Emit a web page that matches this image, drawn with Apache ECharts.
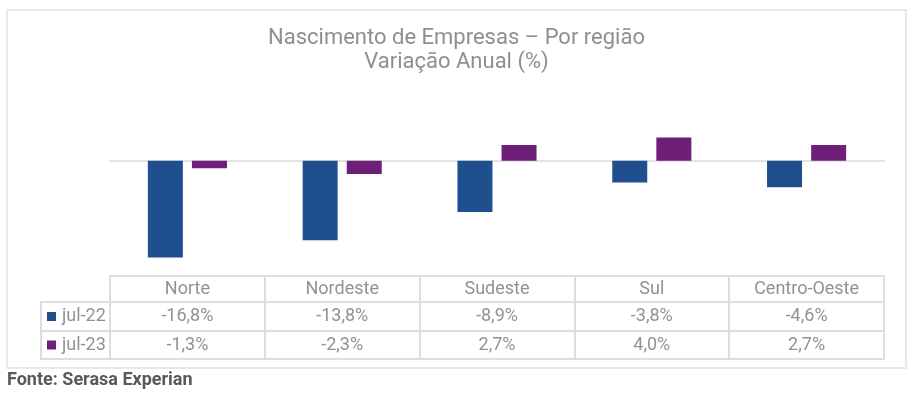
<!DOCTYPE html>
<html>
<head>
<meta charset="utf-8">
<script src="https://cdn.jsdelivr.net/npm/echarts@6/dist/echarts.min.js"></script>
<style>
  html, body { margin: 0; padding: 0; background: #fff; }
  #chart { width: 913px; height: 396px; }
</style>
</head>
<body>
<div id="chart"></div>
<script>
// Dados
const regioes = ['Norte', 'Nordeste', 'Sudeste', 'Sul', 'Centro-Oeste'];
const jul22 = [-16.8, -13.8, -8.9, -3.8, -4.6];
const jul23 = [-1.3, -2.3, 2.7, 4.0, 2.7];
const series = ['jul-22', 'jul-23'];

const cores = ['#1F4F8F', '#6E1F78'];
const cinza = '#8f9296';
const linha = '#dedede';
const fonte = 'Roboto, sans-serif';

// formato brasileiro: -16,8%
const fmt = (v) => v.toFixed(1).replace('.', ',') + '%';

const chart = echarts.init(document.getElementById('chart'));

// eixo extra que desenha uma linha da tabela
function tabelaEixo(offset, data, rowHeight, ticks) {
  return {
    type: 'category',
    gridIndex: 0,
    position: 'bottom',
    offset: offset,
    data: data,
    axisLine: { show: true, onZero: false, lineStyle: { color: linha, width: 2 } },
    axisTick: { show: !!ticks, length: ticks || 0, lineStyle: { color: linha, width: 2 } },
    axisLabel: {
      show: rowHeight > 0,
      margin: 0,
      lineHeight: rowHeight,
      fontSize: 18,
      fontFamily: fonte,
      color: cinza
    },
    splitLine: { show: false }
  };
}

const tituloStyle = { fontSize: 22, fontWeight: 'normal', color: '#8c8f93', fontFamily: fonte, lineHeight: 24 };

const option = {
  animation: false,
  title: [
    { text: 'Nascimento de Empresas – Por região', left: 'center', top: 26, padding: 0, textStyle: tituloStyle },
    { text: 'Variação Anual (%)', left: 'center', top: 50, padding: 0, textStyle: tituloStyle },
    {
      text: 'Fonte: Serasa Experian',
      left: 7,
      top: 371,
      padding: 0,
      textStyle: { fontSize: 18, fontWeight: 'bold', color: '#595959', fontFamily: fonte }
    }
  ],
  legend: {
    data: series,
    orient: 'vertical',
    left: 47,
    top: 306.5,
    padding: 0,
    icon: 'rect',
    itemWidth: 9,
    itemHeight: 9,
    itemGap: 8.5,
    selectedMode: false,
    textStyle: { fontSize: 18, color: cinza, fontFamily: fonte, lineHeight: 20, padding: [0, 0, 0, 1] }
  },
  grid: { left: 110, right: 29, top: 103, bottom: 120, containLabel: false },
  xAxis: [
    {
      type: 'category',
      data: regioes,
      axisLine: { show: true, onZero: true, lineStyle: { color: '#e3e3e3', width: 2 } },
      axisTick: { show: false },
      axisLabel: { show: false }
    },
    tabelaEixo(0, regioes, 26, 83),
    tabelaEixo(26, jul22.map(fmt), 29),
    tabelaEixo(55, jul23.map(fmt), 28),
    tabelaEixo(83, regioes, 0)
  ],
  yAxis: {
    type: 'value',
    min: -20,
    max: 10,
    show: false,
    splitLine: { show: false }
  },
  series: [
    {
      name: series[0],
      type: 'bar',
      data: jul22,
      barWidth: 35,
      barGap: '26%',
      itemStyle: { color: cores[0] }
    },
    {
      name: series[1],
      type: 'bar',
      data: jul23,
      barWidth: 35,
      barGap: '26%',
      itemStyle: { color: cores[1] }
    }
  ],
  graphic: [
    {
      type: 'rect',
      shape: { x: 7, y: 10, width: 899, height: 358 },
      style: { fill: 'none', stroke: '#e2e2e2', lineWidth: 1.5 },
      silent: true
    },
    {
      type: 'rect',
      shape: { x: 41, y: 302, width: 69, height: 57 },
      style: { fill: 'none', stroke: linha, lineWidth: 2 },
      silent: true
    },
    {
      type: 'line',
      shape: { x1: 41, y1: 331, x2: 110, y2: 331 },
      style: { stroke: linha, lineWidth: 2 },
      silent: true
    }
  ]
};

chart.setOption(option);
</script>
</body>
</html>
